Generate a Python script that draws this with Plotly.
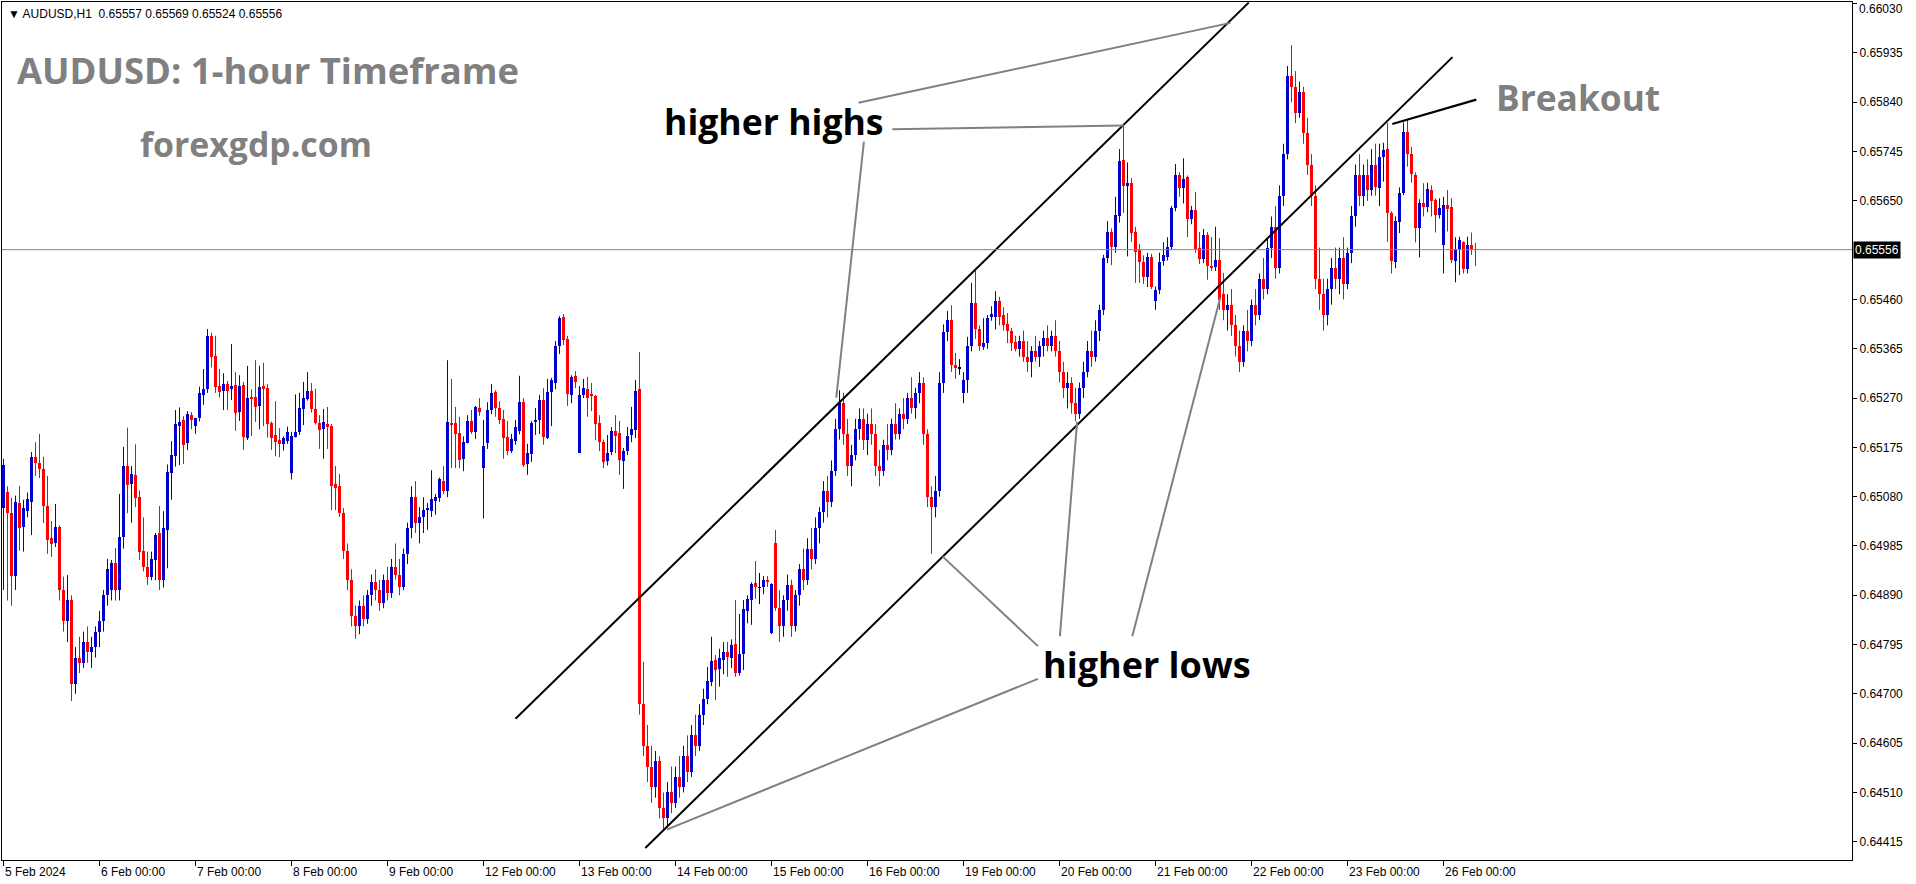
import plotly.graph_objects as go

# ---------------- DATA (prices in points, 1 point = 0.00001) ----------------
OPEN_PTS = [
    65058, 65089, 65049, 64927, 65068, 65022, 65052, 65070, 65157, 65145, 65134, 65062,
    65001, 64991, 65022, 64900, 64840, 64880, 64720, 64770, 64760, 64800, 64780, 64790,
    64820, 64840, 64890, 64900, 64952, 64900, 65002, 65139, 65105, 65122, 65080, 64976,
    64945, 64926, 64958, 65010, 64920, 65016, 65126, 65158, 65216, 65228, 65184, 65238,
    65216, 65232, 65276, 65288, 65389, 65351, 65293, 65284, 65297, 65288, 65295, 65243,
    65295, 65193, 65272, 65272, 65255, 65293, 65289, 65222, 65199, 65189, 65181, 65187,
    65126, 65195, 65205, 65249, 65268, 65284, 65249, 65222, 65210, 65220, 65216, 65104,
    65101, 65049, 64975, 64920, 64850, 64830, 64870, 64845, 64890, 64915, 64900, 64875,
    64920, 64895, 64945, 64930, 64905, 64970, 65020, 65080, 65030, 65040, 65055, 65053,
    65072, 65078, 65110, 65091, 65222, 65222, 65203, 65153, 65183, 65226, 65205, 65251,
    65136, 65184, 65247, 65282, 65251, 65230, 65195, 65168, 65187, 65207, 65263, 65143,
    65162, 65224, 65228, 65266, 65193, 65282, 65299, 65370, 65426, 65384, 65276, 65313,
    65164, 65276, 65287, 65278, 65274, 65222, 65185, 65149, 65166, 65207, 65203, 65149,
    65168, 65199, 65209, 65288, 64680, 64600, 64560, 64520, 64570, 64480, 64460, 64510,
    64490, 64540, 64520, 64580, 64550, 64620, 64600, 64660, 64690, 64722, 64766, 64748,
    64766, 64780, 64770, 64797, 64740, 64776, 64859, 64880, 64913, 64905, 64905, 64918,
    64818, 64990, 64866, 64830, 64880, 64910, 64830, 64890, 64940, 64920, 64980, 64960,
    65020, 65050, 65090, 65070, 65130, 65210, 65260, 65200, 65140, 65160, 65210, 65230,
    65190, 65220, 65200, 65140, 65130, 65180, 65170, 65220, 65200, 65240, 65230, 65270,
    65250, 65280, 65300, 65200, 65080, 65060, 65090, 65300, 65398, 65420, 65334, 65328,
    65280, 65305, 65370, 65453, 65403, 65368, 65376, 65426, 65426, 65457, 65430, 65413,
    65399, 65378, 65365, 65380, 65350, 65340, 65360, 65350, 65370, 65385, 65370, 65390,
    65360, 65320, 65290, 65300, 65260, 65240, 65290, 65320, 65360, 65350, 65400, 65440,
    65540, 65590, 65561, 65621, 65729, 65679, 65685, 65590, 65555, 65532, 65503, 65542,
    65457, 65478, 65534, 65542, 65561, 65636, 65700, 65675, 65696, 65615, 65633, 65559,
    65538, 65584, 65525, 65522, 65536, 65470, 65440, 65450, 65410, 65370, 65340, 65400,
    65380, 65450, 65430, 65500, 65480, 65560, 65600, 65520, 65660, 65740, 65890, 65870,
    65820, 65860, 65780, 65720, 65660, 65500, 65470, 65430, 65480, 65520, 65500, 65540,
    65490, 65550, 65620, 65700, 65660, 65700, 65670, 65720, 65674, 65735, 65750, 65626,
    65533, 65610, 65665, 65782, 65740, 65700, 65598, 65645, 65639, 65671, 65652, 65623,
    65565, 65642, 65638, 65534, 65557, 65570, 65518, 65565, 65557,
]
HIGH_PTS = [
    65153, 65100, 65078, 65082, 65101, 65074, 65088, 65166, 65185, 65201, 65157, 65120,
    65033, 65066, 65025, 64926, 64929, 64890, 64790, 64810, 64820, 64830, 64810, 64830,
    64860, 64900, 64960, 64958, 64981, 65085, 65176, 65213, 65139, 65181, 65092, 65040,
    64974, 64974, 65010, 65062, 65052, 65142, 65187, 65247, 65252, 65235, 65245, 65243,
    65232, 65292, 65326, 65403, 65396, 65390, 65326, 65318, 65303, 65374, 65320, 65314,
    65301, 65332, 65287, 65343, 65332, 65338, 65297, 65225, 65264, 65212, 65196, 65215,
    65205, 65277, 65280, 65301, 65320, 65299, 65288, 65237, 65249, 65253, 65220, 65139,
    65124, 65058, 64990, 64940, 64870, 64880, 64890, 64900, 64930, 64940, 64920, 64930,
    64945, 64960, 64990, 64960, 64980, 65030, 65100, 65110, 65060, 65079, 65068, 65131,
    65085, 65117, 65139, 65343, 65307, 65253, 65234, 65196, 65237, 65247, 65255, 65270,
    65228, 65262, 65297, 65285, 65264, 65247, 65226, 65201, 65228, 65313, 65270, 65182,
    65226, 65251, 65276, 65289, 65307, 65309, 65380, 65428, 65432, 65390, 65314, 65322,
    65293, 65307, 65311, 65299, 65276, 65237, 65190, 65199, 65214, 65237, 65226, 65174,
    65214, 65253, 65305, 65359, 64762, 64640, 64600, 64590, 64580, 64510, 64530, 64560,
    64560, 64580, 64600, 64620, 64640, 64660, 64680, 64710, 64752, 64810, 64775, 64787,
    64800, 64800, 64805, 64881, 64854, 64881, 64890, 64915, 64956, 64933, 64927, 64927,
    64913, 65016, 64900, 64890, 64930, 64920, 64900, 64950, 64980, 65000, 65020, 65040,
    65060, 65110, 65120, 65150, 65230, 65285, 65280, 65230, 65180, 65230, 65250, 65250,
    65240, 65250, 65220, 65170, 65190, 65220, 65230, 65260, 65250, 65270, 65280, 65310,
    65290, 65320, 65310, 65210, 65100, 65120, 65320, 65412, 65438, 65449, 65357, 65345,
    65320, 65388, 65492, 65515, 65410, 65424, 65430, 65447, 65476, 65465, 65445, 65434,
    65405, 65390, 65390, 65400, 65380, 65370, 65390, 65380, 65400, 65410, 65400, 65420,
    65380, 65340, 65320, 65310, 65290, 65300, 65340, 65380, 65400, 65420, 65450, 65546,
    65611, 65597, 65658, 65750, 65794, 65724, 65694, 65600, 65567, 65545, 65550, 65548,
    65485, 65550, 65570, 65580, 65640, 65721, 65705, 65732, 65699, 65640, 65667, 65590,
    65596, 65590, 65580, 65600, 65578, 65511, 65470, 65480, 65430, 65400, 65410, 65440,
    65460, 65480, 65510, 65540, 65580, 65620, 65640, 65680, 65760, 65910, 65950, 65900,
    65880, 65870, 65810, 65740, 65680, 65560, 65500, 65500, 65540, 65560, 65560, 65580,
    65560, 65640, 65720, 65740, 65720, 65730, 65750, 65760, 65760, 65762, 65800, 65630,
    65620, 65676, 65801, 65806, 65754, 65705, 65653, 65684, 65685, 65680, 65655, 65655,
    65658, 65671, 65655, 65580, 65581, 65572, 65581, 65589, 65569,
]
LOW_PTS = [
    64900, 64880, 64870, 64900, 64976, 64974, 65040, 65006, 65120, 65116, 65029, 64970,
    64964, 64983, 64880, 64820, 64800, 64686, 64700, 64740, 64750, 64760, 64750, 64770,
    64790, 64820, 64870, 64880, 64880, 64880, 64980, 65048, 65030, 65060, 64958, 64936,
    64910, 64919, 64919, 64900, 64905, 64942, 65074, 65138, 65141, 65143, 65170, 65210,
    65201, 65225, 65257, 65280, 65329, 65280, 65271, 65247, 65247, 65266, 65207, 65226,
    65170, 65189, 65197, 65224, 65210, 65216, 65194, 65170, 65158, 65156, 65169, 65182,
    65113, 65194, 65199, 65218, 65265, 65242, 65219, 65172, 65153, 65172, 65054, 65054,
    65041, 64960, 64900, 64830, 64806, 64815, 64830, 64835, 64870, 64880, 64860, 64865,
    64880, 64885, 64920, 64890, 64900, 64950, 65000, 65010, 64990, 65010, 65016, 65041,
    65045, 65070, 65085, 65079, 65135, 65135, 65135, 65129, 65183, 65201, 65191, 65236,
    65038, 65172, 65239, 65234, 65220, 65153, 65160, 65164, 65180, 65200, 65137, 65122,
    65147, 65199, 65201, 65180, 65191, 65216, 65287, 65355, 65372, 65255, 65260, 65289,
    65164, 65270, 65234, 65245, 65189, 65168, 65135, 65140, 65160, 65164, 65122, 65095,
    65160, 65185, 65193, 64660, 64580, 64530, 64490, 64500, 64460, 64438, 64445, 64470,
    64480, 64500, 64510, 64530, 64540, 64580, 64590, 64640, 64680, 64715, 64688, 64714,
    64738, 64733, 64750, 64733, 64735, 64746, 64836, 64833, 64883, 64873, 64892, 64906,
    64815, 64860, 64800, 64810, 64860, 64810, 64820, 64870, 64900, 64910, 64940, 64950,
    64990, 65030, 65040, 65060, 65120, 65190, 65180, 65120, 65100, 65150, 65190, 65170,
    65160, 65180, 65120, 65100, 65120, 65150, 65160, 65190, 65190, 65210, 65220, 65240,
    65230, 65260, 65180, 65060, 64970, 65040, 65080, 65280, 65380, 65320, 65307, 65315,
    65260, 65280, 65360, 65384, 65361, 65363, 65365, 65419, 65402, 65410, 65400, 65376,
    65361, 65360, 65350, 65340, 65320, 65310, 65340, 65330, 65350, 65360, 65360, 65350,
    65300, 65270, 65250, 65240, 65225, 65230, 65270, 65310, 65330, 65340, 65380, 65430,
    65530, 65526, 65550, 65608, 65627, 65543, 65571, 65492, 65492, 65490, 65484, 65480,
    65440, 65470, 65525, 65535, 65555, 65630, 65658, 65645, 65580, 65605, 65550, 65528,
    65530, 65498, 65515, 65515, 65440, 65420, 65400, 65390, 65350, 65320, 65330, 65360,
    65370, 65410, 65420, 65460, 65470, 65540, 65500, 65510, 65640, 65730, 65840, 65800,
    65810, 65760, 65700, 65640, 65480, 65440, 65400, 65410, 65450, 65480, 65470, 65460,
    65480, 65530, 65600, 65640, 65640, 65650, 65660, 65660, 65640, 65687, 65571, 65510,
    65520, 65588, 65661, 65716, 65685, 65570, 65541, 65620, 65628, 65620, 65589, 65616,
    65510, 65591, 65530, 65493, 65507, 65510, 65510, 65546, 65524,
]
CLOSE_PTS = [
    65141, 65049, 64927, 65070, 65020, 65058, 65075, 65157, 65145, 65134, 65062, 64997,
    64989, 65022, 64900, 64840, 64880, 64720, 64770, 64760, 64800, 64780, 64790, 64820,
    64840, 64890, 64940, 64952, 64900, 65003, 65139, 65103, 65124, 65078, 64974, 64945,
    64926, 64960, 65006, 64920, 65020, 65128, 65160, 65220, 65224, 65180, 65240, 65228,
    65232, 65280, 65288, 65389, 65349, 65291, 65282, 65297, 65284, 65293, 65241, 65293,
    65195, 65270, 65268, 65253, 65291, 65288, 65220, 65193, 65185, 65181, 65193, 65205,
    65197, 65205, 65251, 65270, 65284, 65249, 65222, 65209, 65224, 65214, 65100, 65097,
    65049, 64975, 64920, 64850, 64830, 64870, 64845, 64890, 64915, 64900, 64875, 64920,
    64895, 64945, 64930, 64905, 64970, 65020, 65080, 65030, 65040, 65055, 65057, 65076,
    65080, 65114, 65091, 65224, 65218, 65201, 65151, 65185, 65226, 65205, 65253, 65243,
    65178, 65247, 65280, 65251, 65228, 65193, 65168, 65191, 65214, 65263, 65141, 65164,
    65222, 65228, 65266, 65195, 65282, 65305, 65370, 65424, 65382, 65278, 65311, 65301,
    65276, 65289, 65270, 65274, 65220, 65185, 65147, 65164, 65207, 65197, 65151, 65168,
    65197, 65210, 65284, 64680, 64600, 64560, 64520, 64570, 64480, 64460, 64510, 64490,
    64540, 64520, 64580, 64550, 64620, 64600, 64660, 64690, 64725, 64764, 64746, 64770,
    64780, 64772, 64795, 64740, 64776, 64863, 64882, 64911, 64905, 64905, 64919, 64917,
    64912, 64866, 64830, 64880, 64910, 64830, 64890, 64940, 64920, 64980, 64960, 65020,
    65050, 65090, 65070, 65130, 65210, 65260, 65200, 65140, 65160, 65210, 65230, 65190,
    65220, 65200, 65140, 65130, 65180, 65170, 65220, 65200, 65240, 65230, 65270, 65250,
    65280, 65300, 65200, 65080, 65060, 65090, 65300, 65398, 65420, 65334, 65328, 65328,
    65305, 65370, 65453, 65403, 65370, 65376, 65424, 65432, 65457, 65426, 65411, 65399,
    65376, 65365, 65380, 65350, 65340, 65360, 65350, 65370, 65385, 65370, 65390, 65360,
    65320, 65290, 65300, 65260, 65240, 65290, 65320, 65360, 65350, 65400, 65440, 65540,
    65590, 65561, 65623, 65727, 65679, 65685, 65588, 65552, 65532, 65503, 65542, 65484,
    65478, 65532, 65546, 65561, 65636, 65700, 65675, 65692, 65615, 65633, 65557, 65538,
    65584, 65525, 65520, 65536, 65459, 65440, 65450, 65410, 65370, 65340, 65400, 65380,
    65450, 65430, 65500, 65480, 65560, 65600, 65520, 65660, 65740, 65890, 65870, 65820,
    65860, 65780, 65720, 65660, 65500, 65470, 65430, 65480, 65520, 65500, 65540, 65490,
    65550, 65620, 65700, 65660, 65700, 65670, 65720, 65676, 65734, 65748, 65627, 65535,
    65612, 65665, 65782, 65740, 65701, 65598, 65645, 65639, 65673, 65650, 65623, 65636,
    65642, 65634, 65536, 65557, 65575, 65518, 65565, 65557, 65556,
]

# day labels (one every 24 hourly bars)
DAY_LABELS = ["5 Feb 2024", "6 Feb 00:00", "7 Feb 00:00", "8 Feb 00:00", "9 Feb 00:00",
              "12 Feb 00:00", "13 Feb 00:00", "14 Feb 00:00", "15 Feb 00:00", "16 Feb 00:00",
              "19 Feb 00:00", "20 Feb 00:00", "21 Feb 00:00", "22 Feb 00:00", "23 Feb 00:00",
              "26 Feb 00:00"]
BARS_PER_DAY = 24
PRICE_TICKS = [0.66030, 0.65935, 0.65840, 0.65745, 0.65650, 0.65460, 0.65365, 0.65270,
               0.65175, 0.65080, 0.64985, 0.64890, 0.64795, 0.64700, 0.64605, 0.64510, 0.64415]
CURRENT_PRICE = 0.65556
HEADER = "AUDUSD,H1  0.65557 0.65569 0.65524 0.65556"

# drawn trend lines: (bar index list, price list)
CHANNEL_UPPER = ([128.0, 311.3], [0.64652, 0.66032])
CHANNEL_LOWER = ([160.45, 362.25], [0.64403, 0.65927])
BREAKOUT_LINE = ([347.2, 368.2], [0.65798, 0.65845])
HH_CALLOUTS = [([213.75, 306.75], [0.65839, 0.65993]),
               ([222.2, 280.1], [0.65788, 0.65795]),
               ([215.1, 208.2], [0.65764, 0.65271])]
HL_CALLOUTS = [([234.75, 258.6], [0.64965, 0.64792]),
               ([165.95, 258.6], [0.64439, 0.64729]),
               ([268.4, 264.1], [0.65224, 0.64811]),
               ([304.2, 282.2], [0.65464, 0.64811])]

# ---------------- BUILD ----------------
assert len(OPEN_PTS) == len(HIGH_PTS) == len(LOW_PTS) == len(CLOSE_PTS), \
    (len(OPEN_PTS), len(HIGH_PTS), len(LOW_PTS), len(CLOSE_PTS))
N = len(OPEN_PTS)
SCALE = 1e-5
o = [v * SCALE for v in OPEN_PTS]
h = [v * SCALE for v in HIGH_PTS]
l = [v * SCALE for v in LOW_PTS]
c = [v * SCALE for v in CLOSE_PTS]
idx = list(range(N))

BLUE = "#0000CC"
RED = "#FF0000"
MIN_BODY = 0.000012

body_base, body_h, body_col = [], [], []
wick = {"up": ([], []), "dn": ([], []), "doji": ([], [])}
for i in idx:
    lo_b, hi_b = min(o[i], c[i]), max(o[i], c[i])
    kind = "up" if c[i] > o[i] else ("dn" if c[i] < o[i] else "doji")
    col = {"up": BLUE, "dn": RED, "doji": "#000000"}[kind]
    hgt = max(hi_b - lo_b, MIN_BODY)
    body_base.append((lo_b + hi_b) / 2 - hgt / 2)
    body_h.append(hgt)
    body_col.append(col)
    wx, wy = wick[kind]
    wx += [i, i, None]
    wy += [min(l[i], lo_b), max(h[i], hi_b), None]

fig = go.Figure()
for kind, col in (("up", BLUE), ("dn", RED), ("doji", "#000000")):
    wx, wy = wick[kind]
    fig.add_trace(go.Scatter(x=wx, y=wy, mode="lines", line=dict(color=col, width=1),
                             hoverinfo="skip", showlegend=False))
fig.add_trace(go.Bar(x=idx, y=body_h, base=body_base, width=0.75,
                     marker=dict(color=body_col, line=dict(width=0)),
                     hoverinfo="skip", showlegend=False))

def add_line(pts, color, width):
    fig.add_trace(go.Scatter(x=pts[0], y=pts[1], mode="lines",
                             line=dict(color=color, width=width),
                             hoverinfo="skip", showlegend=False))

add_line(CHANNEL_UPPER, "#000000", 2)
add_line(CHANNEL_LOWER, "#000000", 2)
add_line(BREAKOUT_LINE, "#000000", 2.2)
for seg in HH_CALLOUTS + HL_CALLOUTS:
    add_line(seg, "#808080", 2)

# current price line
fig.add_shape(type="line", xref="paper", x0=0, x1=1, yref="y",
              y0=CURRENT_PRICE, y1=CURRENT_PRICE, line=dict(color="#7A8898", width=1))

W, H = 1916, 884
ML, MR, MT, MB = 2, 64, 2, 24
X_RANGE = [-0.375, 462.125]
Y_RANGE = [0.643799, 0.660332]

day_ticks = [k * BARS_PER_DAY for k in range(len(DAY_LABELS))]

SMALL = dict(family="Liberation Sans, Arial, sans-serif", size=12, color="#000000")
BIG = "Open Sans, Noto Sans, sans-serif"

# the top-most price label would stick out of the page, so it is drawn as an
# annotation held just inside the top edge; the others are regular tick labels
tick_text = [f"{v:.5f}" for v in PRICE_TICKS]
top_label = tick_text[0]
tick_text[0] = ""

annotations = []
for t, lab in zip(day_ticks, DAY_LABELS):
    annotations.append(dict(x=t, y=0, xref="x", yref="paper", text=lab, showarrow=False,
                            xanchor="left", yanchor="top", xshift=-1, yshift=-3, font=SMALL))
annotations.append(dict(x=1, y=1, xref="paper", yref="paper", text=top_label, showarrow=False,
                        xanchor="left", yanchor="top", xshift=5, yshift=2, font=SMALL))
annotations.append(dict(x=1, y=CURRENT_PRICE, xref="paper", yref="y", text=f"{CURRENT_PRICE:.5f}",
                        showarrow=False, xanchor="left", yanchor="middle", xshift=1,
                        bgcolor="#000000", borderpad=1,
                        font=dict(family=SMALL["family"], size=12, color="#FFFFFF")))
annotations.append(dict(x=0, y=1, xref="paper", yref="paper", text="▼ " + HEADER, showarrow=False,
                        xanchor="left", yanchor="top", xshift=4, yshift=-3,
                        font=dict(family=SMALL["family"], size=12, color="#000000")))

def big_text(txt, xi, yp, color, size):
    annotations.append(dict(x=xi, y=yp, xref="x", yref="y", text=f"<b>{txt}</b>", showarrow=False,
                            xanchor="left", yanchor="middle",
                            font=dict(family=BIG, size=size, color=color)))

big_text("AUDUSD: 1-hour Timeframe", 2.9, 0.65903, "#808080", 36.4)
big_text("forexgdp.com", 33.5, 0.65759, "#808080", 33.8)
big_text("higher highs", 164.5, 0.65804, "#000000", 35.6)
big_text("higher lows", 259.4, 0.64756, "#000000", 36)
big_text("Breakout", 372.6, 0.65850, "#808080", 35.3)

fig.update_layout(
    width=W, height=H, margin=dict(l=ML, r=MR, t=MT, b=MB, autoexpand=False),
    paper_bgcolor="#FFFFFF", plot_bgcolor="#FFFFFF",
    showlegend=False, bargap=0, annotations=annotations,
    xaxis=dict(range=X_RANGE, showgrid=False, zeroline=False, showline=True, mirror=True,
               linecolor="#000000", linewidth=1, ticks="outside", ticklen=5, tickcolor="#000000",
               tickvals=day_ticks, showticklabels=False, fixedrange=True, automargin=False),
    yaxis=dict(range=Y_RANGE, side="right", showgrid=False, zeroline=False, showline=True,
               mirror=True, linecolor="#000000", linewidth=1, ticks="outside", ticklen=4,
               tickcolor="#000000", tickvals=PRICE_TICKS,
               ticktext=tick_text, tickfont=SMALL, fixedrange=True,
               automargin=False),
)

fig.write_html("out.html", config={"displayModeBar": False},
               post_script="document.body.style.margin='0';document.body.style.overflow='hidden';")
